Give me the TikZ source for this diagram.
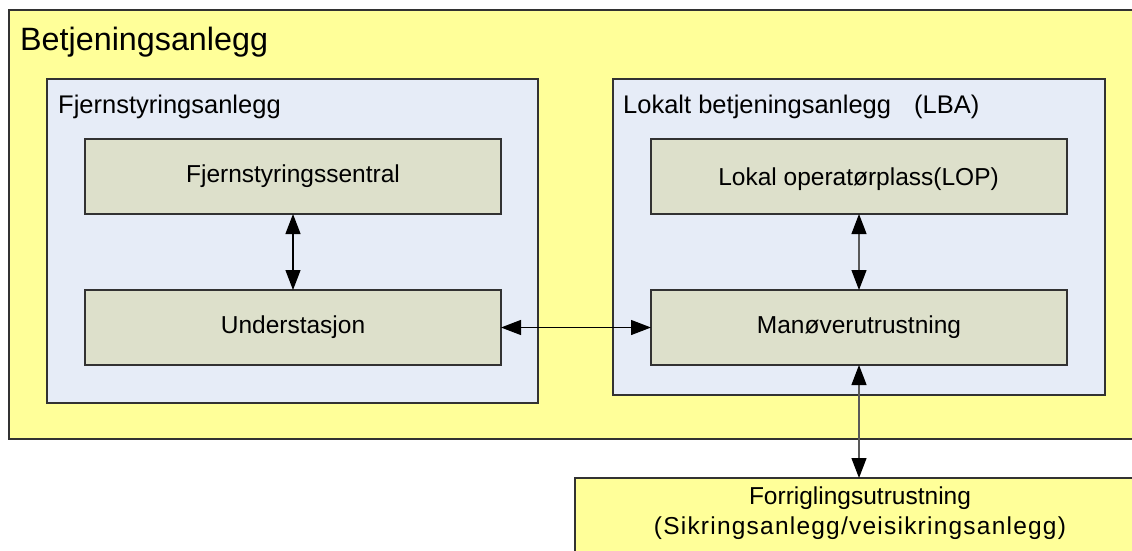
\documentclass[tikz,border=0pt]{standalone}
\usepackage{fontspec}
\setmainfont{Liberation Sans}
\usetikzlibrary{arrows.meta}
\definecolor{outery}{RGB}{255,255,153}
\definecolor{bluebg}{RGB}{230,236,247}
\definecolor{greenbg}{RGB}{221,224,203}
\definecolor{edge}{RGB}{50,50,50}
\tikzset{
  x=1pt, y=-1pt,
  box/.style={draw=edge, line width=1.3pt, anchor=north west, inner sep=0pt, outer sep=0pt},
  ybox/.style={box, fill=outery},
  bbox/.style={box, fill=bluebg},
  gbox/.style={box, fill=greenbg, minimum width=416pt, minimum height=75pt, font=\fontsize{24.5}{30}\selectfont},
  title/.style={anchor=base west, inner sep=0pt, font=\fontsize{25.5}{30}\selectfont},
  link/.style={line width=1.2pt, {Triangle[length=20pt,width=15pt,color=black]}-{Triangle[length=20pt,width=15pt,color=black]}, shorten <=0pt, shorten >=0pt},
}
\begin{document}
\begin{tikzpicture}
\clip (0,0) rectangle (1132,550);
\fill[white] (0,0) rectangle (1132,550);
\node[ybox, minimum width=1150pt, minimum height=429pt] (outer) at (9,10) {};
\node[anchor=base west, inner sep=0pt, font=\fontsize{32.3}{36}\selectfont] (outerT) at (20,50) {Betjeningsanlegg};
\node[bbox, minimum width=491pt, minimum height=324pt] (left) at (47,79) {};
\node[bbox, minimum width=492pt, minimum height=316pt] (right) at (613,79) {};
\node[title] (leftT) at (58,113) {Fjernstyringsanlegg};
\node[title] (rightT) at (623,113) {Lokalt betjeningsanlegg\hspace{23pt}(LBA)};
\node[gbox] (fs) at (85,139) {Fjernstyringssentral};
\node[gbox] (us) at (85,290) {Understasjon};
\node[gbox] (lop) at (651,139) {};
\node[font=\fontsize{24.5}{30}\selectfont, inner sep=0pt, anchor=base east] (lopT) at (999,185) {Lokal operatørplass(LOP)};
\node[gbox] (man) at (651,290) {Manøverutrustning};
\node[ybox, minimum width=600pt, minimum height=100pt] (forr) at (575,478) {};
\node[font=\fontsize{24.5}{30}\selectfont, inner sep=0pt, align=center, anchor=north] (forrT) at (860,487) {Forriglingsutrustning\\{\addfontfeature{LetterSpace=5}(Sikringsanlegg/veisikringsanlegg)}};
\draw[link, draw=black] (fs.south) -- (us.north);
\draw[link, draw=black!65] (lop.south) -- (man.north);
\draw[link, draw=black] (us.east) -- (man.west);
\draw[link, draw=black!65] (man.south) -- (man.south |- forr.north);
\end{tikzpicture}
\end{document}
